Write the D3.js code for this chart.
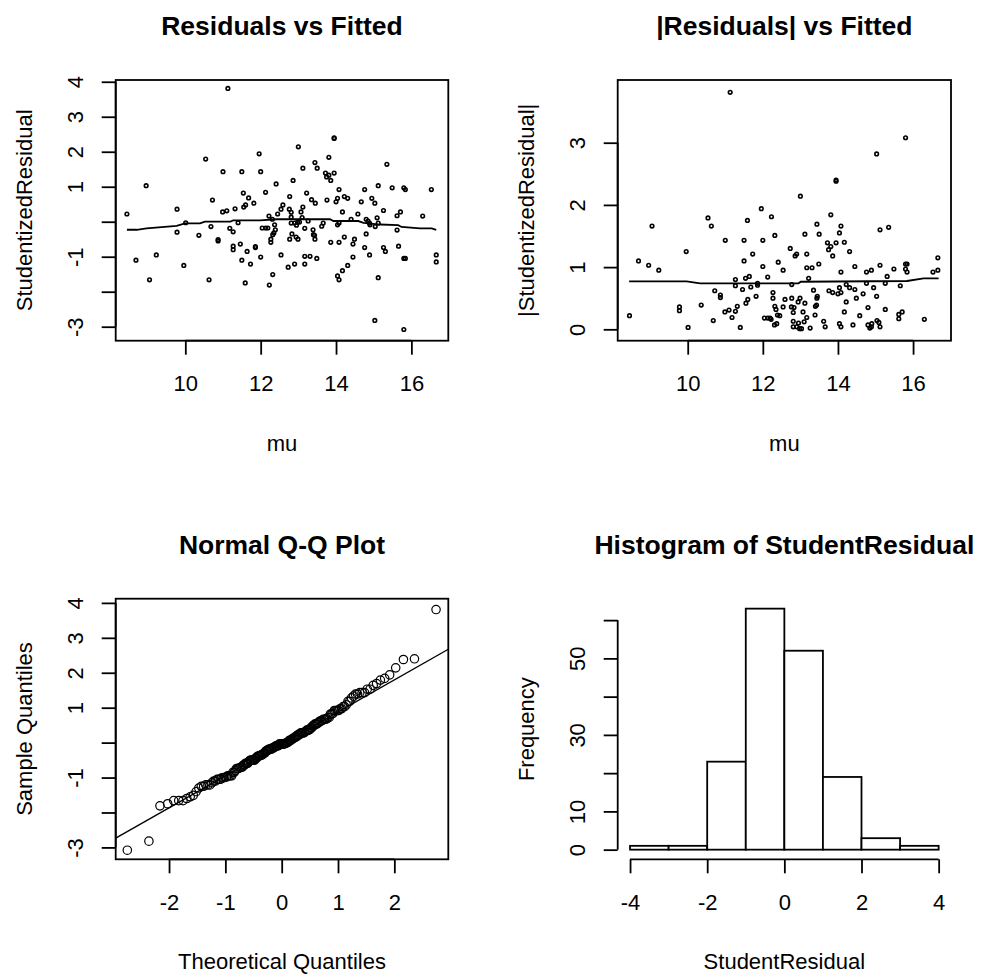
<!DOCTYPE html>
<html lang="en">
<head>
<meta charset="UTF-8">
<title>Residual diagnostics</title>
<script src="https://d3js.org/d3.v7.min.js"></script>
<style>
    body { margin: 0; background: white; }
    svg { display: block; background: white; font-family: "Liberation Sans", Arial, sans-serif; }
    .title { font-size: 26.5px; font-weight: bold; text-anchor: middle; }
    .lab { font-size: 22px; text-anchor: middle; }
</style>
</head>
<body>
<svg id="canvas" width="982" height="974"></svg>
<script>
// fitted values (mu) and studentized residuals
let mu = [8.45,8.69,8.96,9.05,9.23,9.78,9.78,9.96,10.01,10.36,10.54,10.63,10.72,10.68,10.87,10.87,11.00,10.99,11.10,11.13,
    11.18,11.27,11.27,11.27,11.32,11.40,11.46,11.50,11.50,11.54,11.55,11.60,11.59,11.64,11.68,11.73,11.82,11.86,11.86,11.96,
    12.00,12.00,12.04,12.13,12.13,12.19,12.22,12.23,12.27,12.27,12.31,12.32,12.32,12.35,12.37,12.39,12.41,12.45,12.54,12.54,
    12.59,12.73,12.76,12.77,12.77,12.81,12.81,12.81,12.83,12.86,12.90,12.90,12.94,12.95,12.98,12.99,13.00,13.03,13.07,13.10,
    13.12,13.12,13.17,13.17,13.17,13.22,13.26,13.31,13.35,13.39,13.40,13.43,13.44,13.44,13.45,13.49,13.50,13.62,13.66,13.72,
    13.75,13.76,13.81,13.81,13.86,13.86,13.95,13.95,13.95,14.00,14.04,14.04,14.04,14.08,14.08,14.08,14.08,14.17,14.17,14.22,
    14.22,14.31,14.31,14.40,14.45,14.45,14.49,14.58,14.67,14.76,14.76,14.80,14.80,14.85,14.89,14.89,14.90,14.95,15.03,15.03,
    15.04,15.09,15.12,15.12,15.12,15.26,15.31,15.26,15.35,15.49,15.62,15.62,15.66,15.71,15.80,15.84,15.80,15.84,15.80,16.30,
    16.53,16.66,16.66];
let studRes = [0.22,-1.10,1.03,-1.66,-0.95,0.36,-0.30,-1.25,-0.03,-0.39,1.79,-1.66,0.62,-0.14,-0.51,-0.55,1.43,0.28,0.31,3.81,
    -0.19,-0.29,-0.70,-0.80,0.37,-0.03,-0.64,1.43,-1.10,0.82,0.42,0.48,-1.75,-0.85,0.68,-1.21,0.53,-0.71,-0.74,1.94,
    1.43,-1.01,-0.18,0.84,-0.18,-0.18,0.16,-1.81,-0.50,-0.59,0.07,-1.51,-0.37,-0.32,-0.09,-0.23,1.08,0.22,0.36,-0.95,
    0.48,-1.30,0.36,0.72,-0.50,0.27,-0.04,0.13,-0.35,1.18,-1.21,-0.04,-0.44,-0.10,-0.01,-0.50,2.14,-0.01,0.28,0.12,
    0.42,1.53,-0.19,-0.99,-1.21,0.82,0.02,-0.99,0.63,-0.23,-0.37,-0.39,-0.50,1.69,0.53,-1.05,1.53,-0.13,-0.04,1.39,
    1.28,0.62,1.33,1.84,1.18,-0.59,2.40,2.38,1.39,0.57,-0.09,-1.55,0.67,0.92,-0.04,-0.59,-1.66,0.28,-1.40,-0.44,
    0.72,0.67,-1.25,0.07,-0.64,-1.01,-0.50,0.22,0.57,0.92,-0.74,0.07,-0.35,0.02,-0.04,-0.95,-0.09,0.67,-2.82,0.53,
    -0.14,0.11,1.03,-1.60,-0.04,-0.74,-0.85,0.32,1.64,0.97,0.17,-0.24,-0.70,0.28,0.97,0.92,-1.05,-1.05,-3.08,0.16,
    0.92,-0.95,-1.15];

// smoother through the residuals
let smoothMu = [8.45,8.71,8.97,9.77,9.99,10.39,10.52,11.19,11.27,11.98,12.42,13.84,13.93,14.59,14.73,15.17,15.65,15.74,16.23,16.54,16.66];
let smoothRes = [-0.23,-0.23,-0.19,-0.12,-0.05,-0.05,0.00,0.00,0.04,0.04,0.07,0.07,0.02,0.02,-0.03,-0.08,-0.10,-0.15,-0.19,-0.19,-0.23];
// smoother through the absolute residuals
let smoothAbsMu = [8.44,9.97,10.33,12.95,13.01,15.84,16.28,16.68];
let smoothAbs = [0.772,0.772,0.74,0.74,0.765,0.777,0.82,0.82];

// reference line of the Q-Q plot
let qqIntercept = -0.037;
let qqSlope = 0.916;

// histogram of the residuals
let histBreaks = [-4,-3,-2,-1,0,1,2,3,4];
let histCounts = [1,1,23,63,52,19,3,1];

// ticks
let muTicks = [10,12,14,16];
let resTicks = [-3,-2,-1,0,1,2,3,4];
let resTickLabels = ["-3","","-1","","1","2","3","4"];
let absTicks = [0,1,2,3];
let qTicks = [-2,-1,0,1,2];
let histXTicks = [-4,-2,0,2,4];
let freqTicks = [0,10,20,30,40,50,60];
let freqTickLabels = ["0","10","","30","","50",""];

let svg = d3.select('svg');

// plot regions
let p1 = {left: 115.7, right: 448.3, top: 80, bottom: 340.7};
let p2 = {left: 617.7, right: 951, top: 80, bottom: 340.7};
let p3 = {left: 115.7, right: 448.3, top: 598.7, bottom: 859.3};
let p4 = {left: 617.7, right: 951, top: 599, bottom: 859.3};

let LW = 1.8;

function box(p) {
    svg.append('rect')
        .attr('x', p.left).attr('y', p.top)
        .attr('width', p.right - p.left).attr('height', p.bottom - p.top)
        .attr('fill', 'none').attr('stroke', 'black').attr('stroke-width', LW);
}

function bottomAxis(scale, ticks, labels, y) {
    let g = svg.append('g').attr('transform', `translate(0,${y})`)
        .call(d3.axisBottom(scale).tickValues(ticks).tickSize(14).tickPadding(21)
            .tickFormat((d, i) => labels[i]));
    g.attr('font-family', null).attr('font-size', null);
    g.select('.domain').remove();
    g.append('line')
        .attr('x1', scale(ticks[0])).attr('x2', scale(ticks[ticks.length - 1]))
        .attr('stroke', 'black').attr('stroke-width', LW);
    g.selectAll('.tick line').attr('stroke', 'black').attr('stroke-width', LW);
    g.selectAll('.tick text').attr('fill', 'black').style('font-size', '22px');
}

function leftAxis(scale, ticks, labels, x) {
    let g = svg.append('g').attr('transform', `translate(${x},0)`)
        .call(d3.axisLeft(scale).tickValues(ticks).tickSize(14)
            .tickFormat((d, i) => labels[i]));
    g.attr('font-family', null).attr('font-size', null);
    g.select('.domain').remove();
    g.append('line')
        .attr('y1', scale(ticks[0])).attr('y2', scale(ticks[ticks.length - 1]))
        .attr('stroke', 'black').attr('stroke-width', LW);
    g.selectAll('.tick line').attr('stroke', 'black').attr('stroke-width', LW);
    g.selectAll('.tick text')
        .attr('x', 0).attr('dy', 0).attr('text-anchor', 'middle')
        .attr('transform', 'translate(-32.5,0) rotate(-90)')
        .attr('fill', 'black').style('font-size', '22px');
}

function labels(p, title, xlab, ylab) {
    let cx = (p.left + p.right) / 2;
    svg.append('text').attr('class', 'title').attr('x', cx).attr('y', p.top - 45).text(title);
    svg.append('text').attr('class', 'lab').attr('x', cx).attr('y', p.bottom + 110).text(xlab);
    svg.append('text').attr('class', 'lab')
        .attr('transform', `translate(${p.left - 84},${(p.top + p.bottom) / 2}) rotate(-90)`)
        .text(ylab);
}

// ---- panel 1: residuals vs fitted
let x1 = d3.scaleLinear().domain([8.152, 16.98]).range([p1.left, p1.right]);
let y1 = d3.scaleLinear().domain([-3.40, 4.05]).range([p1.bottom, p1.top]);
svg.append('g').selectAll('circle').data(mu).join('circle')
    .attr('cx', d => x1(d)).attr('cy', (d, i) => y1(studRes[i])).attr('r', 1.8)
    .attr('fill', 'none').attr('stroke', 'black').attr('stroke-width', 1.6);
svg.append('path').datum(smoothMu)
    .attr('d', d3.line().x(d => x1(d)).y((d, i) => y1(smoothRes[i])))
    .attr('fill', 'none').attr('stroke', 'black').attr('stroke-width', LW);
box(p1);
bottomAxis(x1, muTicks, muTicks.map(String), p1.bottom);
leftAxis(y1, resTicks, resTickLabels, p1.left);
labels(p1, 'Residuals vs Fitted', 'mu', 'StudentizedResidual');

// ---- panel 2: |residuals| vs fitted
let x2 = d3.scaleLinear().domain([8.136, 17.01]).range([p2.left, p2.right]);
let y2 = d3.scaleLinear().domain([-0.183, 4.008]).range([p2.bottom, p2.top]);
svg.append('g').selectAll('circle').data(mu).join('circle')
    .attr('cx', d => x2(d)).attr('cy', (d, i) => y2(Math.abs(studRes[i]))).attr('r', 1.8)
    .attr('fill', 'none').attr('stroke', 'black').attr('stroke-width', 1.6);
svg.append('path').datum(smoothAbsMu)
    .attr('d', d3.line().x(d => x2(d)).y((d, i) => y2(smoothAbs[i])))
    .attr('fill', 'none').attr('stroke', 'black').attr('stroke-width', LW);
box(p2);
bottomAxis(x2, muTicks, muTicks.map(String), p2.bottom);
leftAxis(y2, absTicks, absTicks.map(String), p2.left);
labels(p2, '|Residuals| vs Fitted', 'mu', '|StudentizedResidual|');

// ---- panel 3: normal Q-Q
// inverse normal cdf (Acklam) for the theoretical quantiles
function qnorm(p) {
    let a = [-39.69683028665376, 220.9460984245205, -275.9285104469687, 138.3577518672690, -30.66479806614716, 2.506628277459239];
    let b = [-54.47609879822406, 161.5858368580409, -155.6989798598866, 66.80131188771972, -13.28068155288572];
    let c = [-0.007784894002430293, -0.3223964580411365, -2.400758277161838, -2.549732539343734, 4.374664141464968, 2.938163982698783];
    let d = [0.007784695709041462, 0.3224671290700398, 2.445134137142996, 3.754408661907416];
    let tail = q => (((((c[0]*q+c[1])*q+c[2])*q+c[3])*q+c[4])*q+c[5]) / ((((d[0]*q+d[1])*q+d[2])*q+d[3])*q+1);
    if (p < 0.02425) return tail(Math.sqrt(-2 * Math.log(p)));
    if (p > 1 - 0.02425) return -tail(Math.sqrt(-2 * Math.log(1 - p)));
    let q = p - 0.5, r = q * q;
    return (((((a[0]*r+a[1])*r+a[2])*r+a[3])*r+a[4])*r+a[5]) * q / (((((b[0]*r+b[1])*r+b[2])*r+b[3])*r+b[4])*r+1);
}
let sortedRes = studRes.slice().sort(d3.ascending);
let n = sortedRes.length;
let theo = sortedRes.map((d, i) => qnorm((i + 0.5) / n));

let x3 = d3.scaleLinear().domain([-2.947, 2.958]).range([p3.left, p3.right]);
let y3 = d3.scaleLinear().domain([-3.34, 4.12]).range([p3.bottom, p3.top]);
svg.append('g').selectAll('circle').data(sortedRes).join('circle')
    .attr('cx', (d, i) => x3(theo[i])).attr('cy', d => y3(d)).attr('r', 4.2)
    .attr('fill', 'none').attr('stroke', 'black').attr('stroke-width', 1.2);
svg.append('line')
    .attr('x1', x3(x3.domain()[0])).attr('y1', y3(qqIntercept + qqSlope * x3.domain()[0]))
    .attr('x2', x3(x3.domain()[1])).attr('y2', y3(qqIntercept + qqSlope * x3.domain()[1]))
    .attr('stroke', 'black').attr('stroke-width', 1.4);
box(p3);
bottomAxis(x3, qTicks, qTicks.map(String), p3.bottom);
leftAxis(y3, resTicks, resTickLabels, p3.left);
labels(p3, 'Normal Q-Q Plot', 'Theoretical Quantiles', 'Sample Quantiles');

// ---- panel 4: histogram
let x4 = d3.scaleLinear().domain([-4.32, 4.32]).range([p4.left, p4.right]);
let y4 = d3.scaleLinear().domain([-2.52, 65.52]).range([p4.bottom, p4.top]);
svg.append('g').selectAll('rect').data(histCounts).join('rect')
    .attr('x', (d, i) => x4(histBreaks[i]))
    .attr('width', (d, i) => x4(histBreaks[i + 1]) - x4(histBreaks[i]))
    .attr('y', d => y4(d)).attr('height', d => y4(0) - y4(d))
    .attr('fill', 'white').attr('stroke', 'black').attr('stroke-width', LW);
bottomAxis(x4, histXTicks, histXTicks.map(String), p4.bottom);
leftAxis(y4, freqTicks, freqTickLabels, p4.left);
labels(p4, 'Histogram of StudentResidual', 'StudentResidual', 'Frequency');
</script>
</body>
</html>
